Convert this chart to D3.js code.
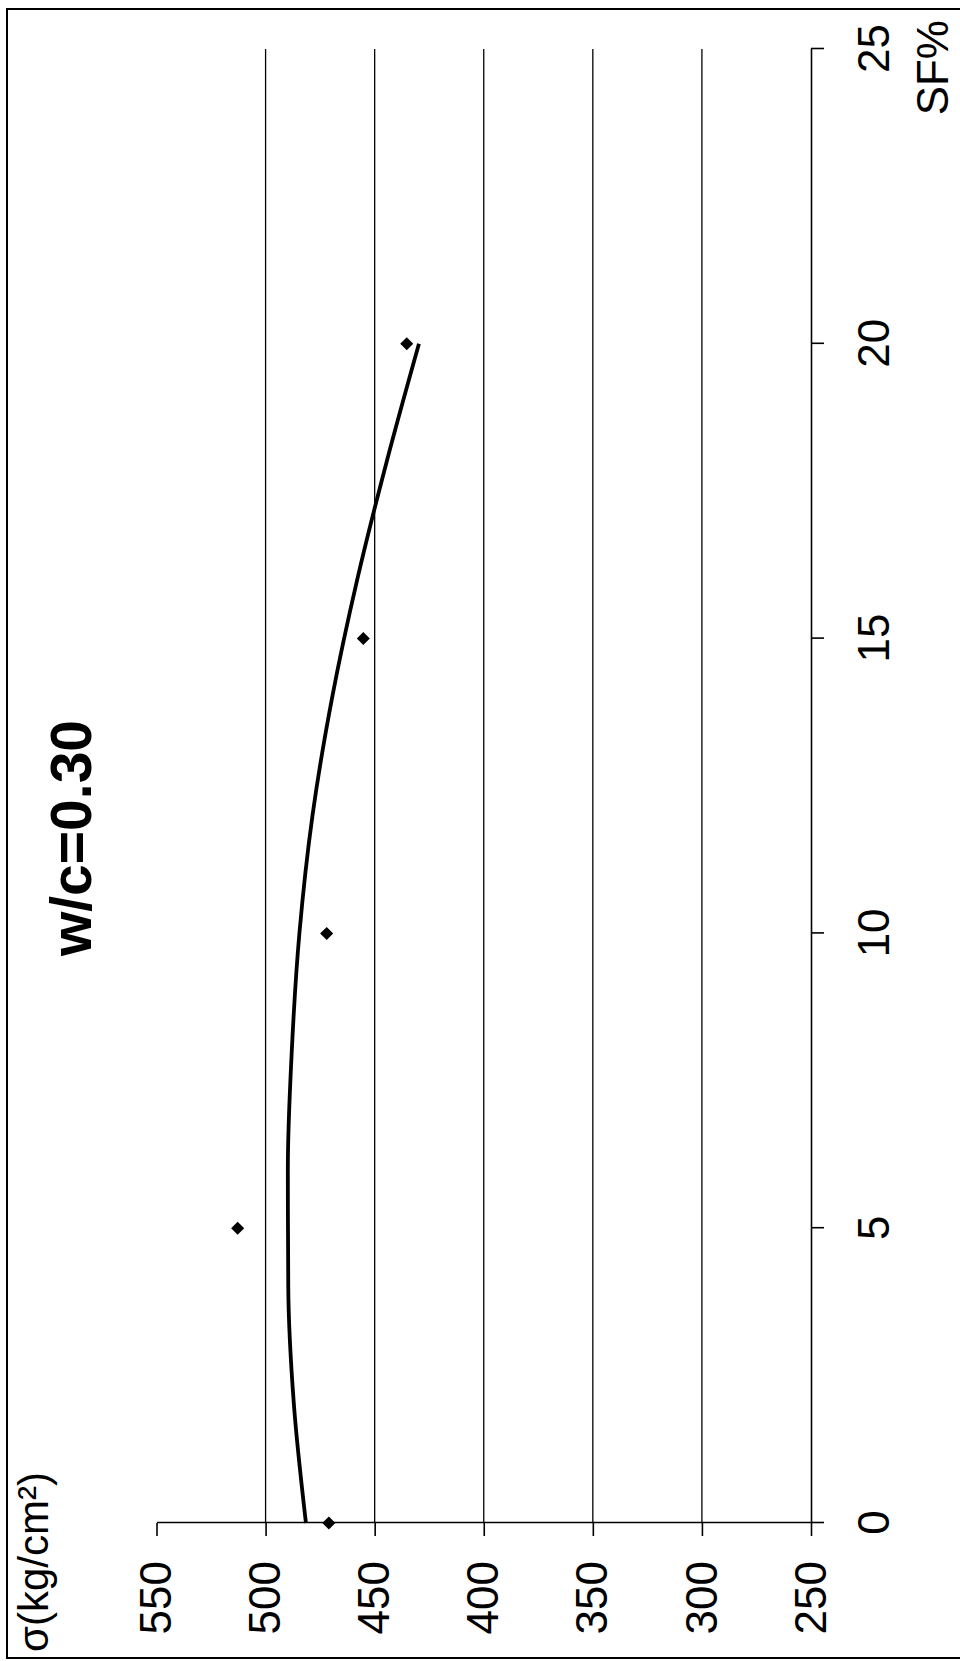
<!DOCTYPE html>
<html>
<head>
<meta charset="utf-8">
<script src="https://cdn.jsdelivr.net/npm/d3@7"></script>
<style>
  html, body { margin: 0; padding: 0; background: #fff; }
  svg { display: block; font-family: 'Liberation Sans', Arial, sans-serif; }
</style>
</head>
<body>
<div id="chart"></div>
<script>
// measured points (SF %, strength)
const sfValues = [0, 5, 10, 15, 20];
const sigmaValues = [471, 512.8, 472, 455.2, 435.3];

// trend curve
const trendSF = [0, 2, 4, 6, 8, 10, 12, 14, 16, 18, 20];
const trendSigma = [481.5, 487, 489.6, 489.8, 488, 484.5, 478.5, 469.5, 458, 444.5, 429.7];

const sfTicks = [0, 5, 10, 15, 20, 25];
const sigmaTicks = [250, 300, 350, 400, 450, 500, 550];
const gridTicks = [300, 350, 400, 450, 500];

const titleText = 'w/c=0.30';
const xTitle = 'SF%';
const yTitle = 'σ(kg/cm²)';

const W = 960, H = 1661;

const svg = d3.select('#chart').append('svg')
  .attr('width', W)
  .attr('height', H);

svg.append('rect').attr('width', W).attr('height', H).attr('fill', '#fff');

// outer frame (right edge falls off the page)
svg.append('rect')
  .attr('x', 7).attr('y', 9)
  .attr('width', 1000).attr('height', 1649)
  .attr('fill', 'none')
  .attr('stroke', '#000')
  .attr('stroke-width', 2);

// the whole chart is turned a quarter turn counter-clockwise
const g = svg.append('g')
  .attr('transform', `translate(0,${H}) rotate(-90)`);

const x = d3.scaleLinear().domain([0, 25]).range([138, 1612]);
const y = d3.scaleLinear().domain([250, 550]).range([811, 156.5]);

// gridlines
g.append('g')
  .selectAll('line')
  .data(gridTicks)
  .enter().append('line')
  .attr('x1', x(0)).attr('x2', x(25))
  .attr('y1', d => y(d)).attr('y2', d => y(d))
  .attr('stroke', '#000')
  .attr('stroke-width', 1.3);

// value axis
const yAxis = g.append('g')
  .attr('transform', `translate(${x(0)},0)`)
  .call(d3.axisLeft(y).tickValues(sigmaTicks).tickSize(13).tickSizeOuter(0).tickPadding(25));

// SF axis
const xAxis = g.append('g')
  .attr('transform', `translate(0,${y(250)})`)
  .call(d3.axisBottom(x).tickValues(sfTicks).tickSize(13).tickSizeOuter(0).tickPadding(34));

[xAxis, yAxis].forEach(ax => {
  ax.selectAll('path, line').attr('stroke', '#000').attr('stroke-width', 1.6);
  ax.selectAll('text')
    .attr('fill', '#000')
    .style('font-family', "'Liberation Sans', Arial, sans-serif")
    .style('font-size', '44px');
});

// trend curve
const line = d3.line()
  .x((d, i) => x(trendSF[i]))
  .y(d => y(d))
  .curve(d3.curveMonotoneX);

g.append('path')
  .datum(trendSigma)
  .attr('d', line)
  .attr('fill', 'none')
  .attr('stroke', '#000')
  .attr('stroke-width', 3.8);

// data markers
g.selectAll('.pt')
  .data(sigmaValues)
  .enter().append('path')
  .attr('class', 'pt')
  .attr('transform', (d, i) => `translate(${x(sfValues[i])},${y(d)}) rotate(45)`)
  .attr('d', d3.symbol().type(d3.symbolSquare).size(85))
  .attr('fill', '#000');

// title
g.append('text')
  .attr('x', 823)
  .attr('y', 91)
  .attr('text-anchor', 'middle')
  .style('font-size', '57px')
  .style('font-weight', 'bold')
  .text(titleText);

// axis titles
g.append('text')
  .attr('x', 1641)
  .attr('y', 948)
  .attr('text-anchor', 'end')
  .style('font-size', '44px')
  .text(xTitle);

g.append('text')
  .attr('x', 9)
  .attr('y', 48)
  .attr('text-anchor', 'start')
  .style('font-size', '42px')
  .text(yTitle);
</script>
</body>
</html>
